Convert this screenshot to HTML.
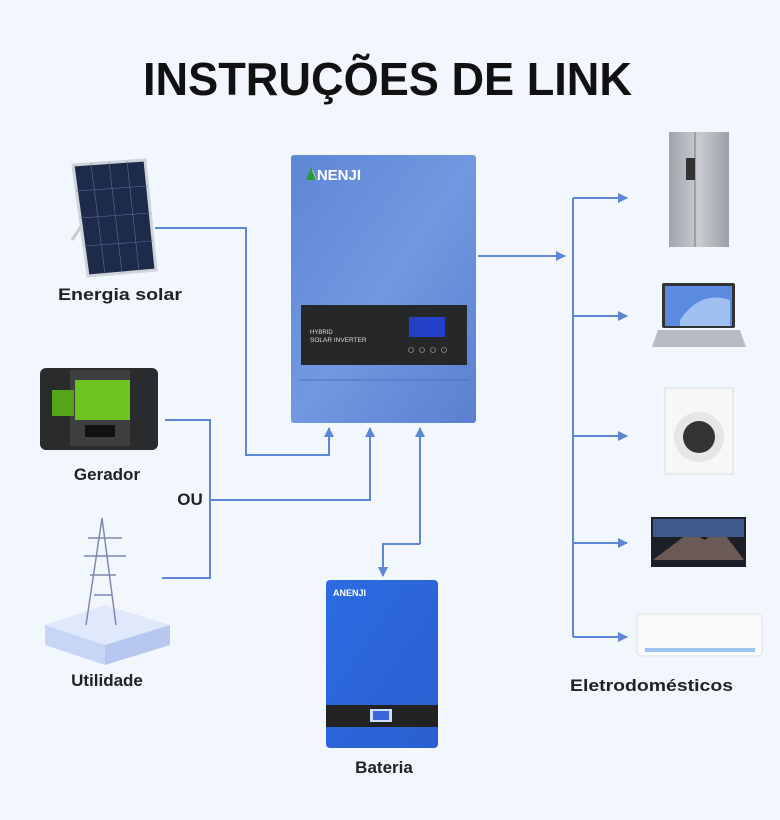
<!DOCTYPE html>
<html><head><meta charset="utf-8"><style>
body{margin:0;width:780px;height:815px;background:#f1f7fd;overflow:hidden;font-family:"Liberation Sans",Arial,sans-serif}
</style></head><body>
<svg width="780" height="815" viewBox="0 0 780 815" xmlns="http://www.w3.org/2000/svg" font-family="Liberation Sans, Arial, sans-serif">
<defs>
<linearGradient id="inv" x1="0" y1="0" x2="1" y2="1"><stop offset="0" stop-color="#5d86d6"/><stop offset="0.5" stop-color="#7398e0"/><stop offset="1" stop-color="#5a80d0"/></linearGradient>
<linearGradient id="bat" x1="0" y1="0" x2="1" y2="1"><stop offset="0" stop-color="#2d6be2"/><stop offset="1" stop-color="#2a5fd0"/></linearGradient>
<linearGradient id="steel" x1="0" y1="0" x2="1" y2="0"><stop offset="0" stop-color="#9ea4ab"/><stop offset="0.5" stop-color="#c9cdd2"/><stop offset="1" stop-color="#9aa0a6"/></linearGradient>
<marker id="a" viewBox="0 0 10 10" refX="9" refY="5" markerWidth="10" markerHeight="10" markerUnits="userSpaceOnUse" orient="auto"><path d="M0,0L10,5L0,10z" fill="#5b87d6"/></marker>
</defs>
<text x="143" y="95" textLength="489" lengthAdjust="spacingAndGlyphs" font-size="46" font-weight="bold" fill="#111">INSTRUÇÕES DE LINK</text>

<g fill="none" stroke="#5b87d6" stroke-width="2">
<polyline points="155,228 246,228 246,455 329,455 329,428" marker-end="url(#a)"/>
<polyline points="165,420 210,420 210,578 162,578"/>
<polyline points="210,500 370,500 370,428" marker-end="url(#a)"/>
<polyline points="420,544 420,428" marker-end="url(#a)"/>
<polyline points="420,544 383,544 383,576" marker-end="url(#a)"/>
<polyline points="478,256 565,256" marker-end="url(#a)"/>
<polyline points="573,637 573,198"/>
<polyline points="573,198 627,198" marker-end="url(#a)"/>
<polyline points="573,316 627,316" marker-end="url(#a)"/>
<polyline points="573,436 627,436" marker-end="url(#a)"/>
<polyline points="573,543 627,543" marker-end="url(#a)"/>
<polyline points="573,637 627,637" marker-end="url(#a)"/>
</g>

<rect x="291" y="155" width="185" height="268" rx="3" fill="url(#inv)"/>
<line x1="299" y1="380" x2="470" y2="380" stroke="#4d72c0" stroke-width="1"/>
<rect x="301" y="305" width="166" height="60" fill="#262729"/>
<text x="306" y="180" font-size="15" font-weight="bold" fill="#fff">ANENJI</text>
<path d="M306,180 L311,167 L316,180z" fill="#2a9a3a"/>
<text x="310" y="334" font-size="6" fill="#ddd">HYBRID</text>
<text x="310" y="342" font-size="6.5" fill="#ddd">SOLAR INVERTER</text>
<rect x="409" y="317" width="36" height="20" fill="#2340c8"/>
<g fill="none" stroke="#aaa" stroke-width="0.6"><circle cx="411" cy="350" r="2.5"/><circle cx="422" cy="350" r="2.5"/><circle cx="433" cy="350" r="2.5"/><circle cx="444" cy="350" r="2.5"/></g>

<rect x="326" y="580" width="112" height="168" rx="4" fill="url(#bat)"/>
<text x="333" y="596" font-size="9" font-weight="bold" fill="#fff">ANENJI</text>
<rect x="326" y="705" width="112" height="22" fill="#222"/>
<rect x="370" y="709" width="22" height="13" fill="#cfe0ff"/>
<rect x="373" y="711" width="16" height="9" fill="#3a66d8"/>

<polygon points="73,165 145,160 156,270 88,276" fill="#1e2a4a" stroke="#cfd4da" stroke-width="3"/>
<g stroke="#5a6fa0" stroke-width="0.6">
<line x1="91" y1="163" x2="105" y2="274"/><line x1="109" y1="162" x2="122" y2="273"/><line x1="127" y1="161" x2="139" y2="271"/>
<line x1="76" y1="191" x2="148" y2="186"/><line x1="80" y1="218" x2="151" y2="213"/><line x1="84" y1="246" x2="153" y2="241"/>
</g>
<line x1="82" y1="225" x2="72" y2="240" stroke="#ccc" stroke-width="3"/>
<text x="58" y="300" textLength="124" lengthAdjust="spacingAndGlyphs" font-size="17" font-weight="bold" fill="#222">Energia solar</text>

<rect x="40" y="368" width="118" height="82" rx="6" fill="#2a2b2d"/>
<rect x="70" y="370" width="60" height="76" fill="#3d3e40"/>
<rect x="75" y="380" width="55" height="40" fill="#6cc41f"/>
<rect x="52" y="390" width="22" height="26" fill="#55a51a"/>
<rect x="85" y="425" width="30" height="12" fill="#111"/>
<text x="107" y="480" text-anchor="middle" font-size="17" font-weight="bold" fill="#222">Gerador</text>
<text x="190" y="505" text-anchor="middle" font-size="17" font-weight="bold" fill="#222">OU</text>

<polygon points="45,625 105,605 170,625 105,645" fill="#e0e8fb"/>
<polygon points="45,625 105,645 105,665 45,645" fill="#c8d6f6"/>
<polygon points="170,625 105,645 105,665 170,645" fill="#b6c8f0"/>
<g stroke="#7f8ab0" stroke-width="1.5" fill="none">
<polyline points="86,625 102,518 116,625"/><line x1="88" y1="538" x2="122" y2="538"/><line x1="84" y1="556" x2="126" y2="556"/><line x1="90" y1="575" x2="116" y2="575"/><line x1="94" y1="595" x2="112" y2="595"/>
</g>
<text x="107" y="686" text-anchor="middle" font-size="17" font-weight="bold" fill="#222">Utilidade</text>

<rect x="669" y="132" width="60" height="115" fill="url(#steel)"/>
<line x1="695" y1="132" x2="695" y2="247" stroke="#777"/>
<rect x="686" y="158" width="9" height="22" fill="#333"/>
<rect x="662" y="283" width="73" height="45" rx="2" fill="#333"/>
<rect x="665" y="286" width="67" height="40" fill="#5b8be0"/>
<path d="M680,320 Q700,290 730,300 L730,326 L680,326z" fill="#9fc0f0"/>
<polygon points="652,347 746,347 740,330 658,330" fill="#b8bcc2"/>
<rect x="665" y="388" width="68" height="86" fill="#f7f7f7" stroke="#ddd"/>
<circle cx="699" cy="437" r="25" fill="#e6e6e6"/><circle cx="699" cy="437" r="16" fill="#333"/>
<rect x="651" y="517" width="95" height="50" fill="#1c1f28"/>
<polygon points="653,560 690,532 705,540 720,528 744,560" fill="#6b5a55"/>
<rect x="653" y="519" width="91" height="18" fill="#3d5a8a"/>
<rect x="637" y="614" width="125" height="42" rx="4" fill="#fafafa" stroke="#e2e2e2"/>
<rect x="645" y="648" width="110" height="4" fill="#9ec4f3"/>
<text x="570" y="691" textLength="163" lengthAdjust="spacingAndGlyphs" font-size="17" font-weight="bold" fill="#222">Eletrodomésticos</text>
<text x="384" y="773" text-anchor="middle" font-size="17" font-weight="bold" fill="#222">Bateria</text>
</svg>
</body></html>
